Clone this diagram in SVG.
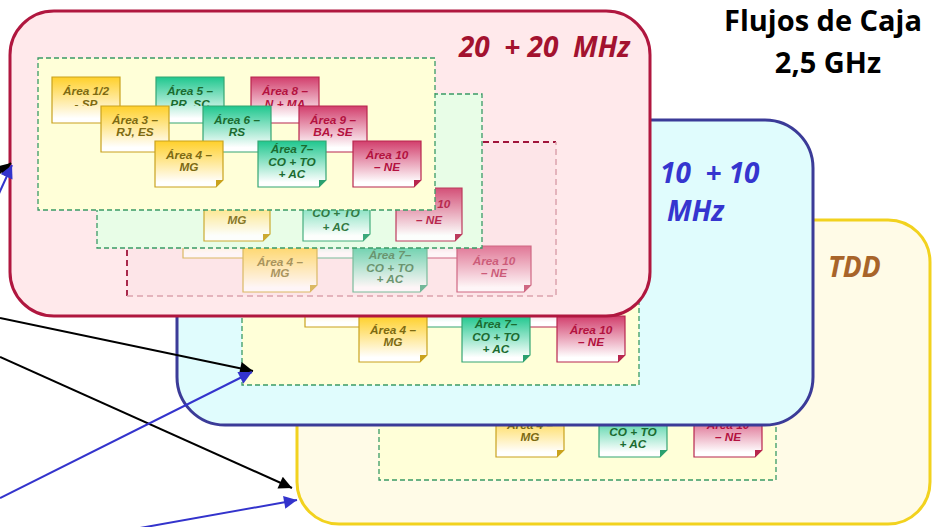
<svg xmlns="http://www.w3.org/2000/svg" width="932" height="527" viewBox="0 0 932 527">
<defs>
<linearGradient id="gy" x1="0" y1="0" x2="0" y2="1"><stop offset="0" stop-color="#ffd02a"/><stop offset="0.9" stop-color="#ffffff"/></linearGradient>
<linearGradient id="gg" x1="0" y1="0" x2="0" y2="1"><stop offset="0" stop-color="#1fc78e"/><stop offset="0.9" stop-color="#ffffff"/></linearGradient>
<linearGradient id="gr" x1="0" y1="0" x2="0" y2="1"><stop offset="0" stop-color="#d23e6c"/><stop offset="0.9" stop-color="#ffffff"/></linearGradient>
<clipPath id="r1" clipPathUnits="userSpaceOnUse"><rect x="-5" y="-5" width="80" height="34"/></clipPath>
<marker id="ak" viewBox="0 0 10 10" refX="10" refY="5" markerUnits="userSpaceOnUse" markerWidth="17" markerHeight="13" orient="auto"><path d="M0,0L10,5L0,10Z" fill="#000"/></marker>
<marker id="ab" viewBox="0 0 10 10" refX="10" refY="5" markerUnits="userSpaceOnUse" markerWidth="17" markerHeight="13" orient="auto"><path d="M0,0L10,5L0,10Z" fill="#3333cc"/></marker>
</defs>
<style>
.cy{fill:url(#gy);stroke:#c9a21e;stroke-width:1.2}
.cg{fill:url(#gg);stroke:#35a673;stroke-width:1.2}
.cr{fill:url(#gr);stroke:#b8264e;stroke-width:1.2}
.fy{fill:#c9a21e}.fg{fill:#2aa070}.fr{fill:#b8264e}
.t{font-family:"Liberation Sans",Arial,sans-serif;font-weight:bold;font-style:italic;font-size:11.8px;text-anchor:middle}
.ty{fill:#7d6a12}.tg{fill:#1b6b30}.tr{fill:#b3123f}
.frame{fill:#ffffd8;stroke:#3a9a66;stroke-width:1.3;stroke-dasharray:5 3}
.mid{fill:#e8fde7;stroke:#3a9a66;stroke-width:1.3;stroke-dasharray:5 3}
.big{font-family:"Open Sans","Liberation Sans",sans-serif;font-weight:bold;font-style:italic;font-size:28px}
.title{font-family:"Open Sans","Liberation Sans",sans-serif;font-weight:bold;font-size:29px;fill:#000;text-anchor:middle}
.ln{fill:none;stroke-width:2}
</style>

<!-- TDD panel -->
<g id="panel-tdd">
<rect x="297" y="220" width="633" height="304" rx="42" fill="#fffbe7" stroke="#f2d21e" stroke-width="3"/>
<text class="big" x="828" y="277" fill="#a8642a">TDD</text>
<rect class="frame" x="379" y="328" width="397" height="152"/>
<g id="y-a4" transform="translate(496,411)"><path class="cy" d="M0,0H68V39L61,46H0Z"/><path class="fy" d="M61,46L68,39H61Z"/><text class="t ty" x="34" y="18">Área 4 –</text><text class="t ty" x="34" y="30">MG</text></g>
<g id="y-a7" transform="translate(599,411)"><path class="cg" d="M0,0H68V39L61,46H0Z"/><path class="fg" d="M61,46L68,39H61Z"/><text class="t tg" x="34" y="12">Área 7–</text><text class="t tg" x="34" y="25">CO + TO</text><text class="t tg" x="34" y="37">+ AC</text></g>
<g id="y-a10" transform="translate(694,411)"><path class="cr" d="M0,0H68V39L61,46H0Z"/><path class="fr" d="M61,46L68,39H61Z"/><text class="t tr" x="34" y="18">Área 10</text><text class="t tr" x="34" y="30">– NE</text></g>
</g>

<!-- 10+10 panel -->
<g id="panel-10">
<rect x="177" y="120" width="636" height="305" rx="48" fill="#e0fcfd" stroke="#3b3b98" stroke-width="3"/>
<text class="big" x="660" y="183" fill="#3535cf" xml:space="preserve">10  + 10</text>
<text class="big" x="667" y="221" fill="#3535cf">MHz</text>
<rect class="frame" x="242" y="233" width="397" height="152"/>
<g transform="translate(305,281)"><path class="cy" d="M0,0H68V39L61,46H0Z"/></g>
<g transform="translate(407,281)"><path class="cg" d="M0,0H68V39L61,46H0Z"/></g>
<g transform="translate(503,281)"><path class="cr" d="M0,0H68V39L61,46H0Z"/></g>
<g id="c-a4" transform="translate(359,316)"><path class="cy" d="M0,0H68V39L61,46H0Z"/><path class="fy" d="M61,46L68,39H61Z"/><text class="t ty" x="34" y="18">Área 4 –</text><text class="t ty" x="34" y="30">MG</text></g>
<g id="c-a7" transform="translate(462,316)"><path class="cg" d="M0,0H68V39L61,46H0Z"/><path class="fg" d="M61,46L68,39H61Z"/><text class="t tg" x="34" y="12">Área 7–</text><text class="t tg" x="34" y="25">CO + TO</text><text class="t tg" x="34" y="37">+ AC</text></g>
<g id="c-a10" transform="translate(557,316)"><path class="cr" d="M0,0H68V39L61,46H0Z"/><path class="fr" d="M61,46L68,39H61Z"/><text class="t tr" x="34" y="18">Área 10</text><text class="t tr" x="34" y="30">– NE</text></g>
</g>

<!-- 20+20 panel -->
<g id="panel-20">
<rect x="10" y="11" width="640" height="305" rx="44" fill="#ffe9eb" stroke="#b0173f" stroke-width="3"/>
<text class="big" x="630" y="57" fill="#a3122f" text-anchor="end" xml:space="preserve">20  + 20  MHz</text>

<!-- back layer -->
<g id="back-layer">
<rect x="127" y="142" width="429" height="154" fill="#fde5e8"/>
<path d="M127,296V142H556" fill="none" stroke="#a0143a" stroke-width="1.8" stroke-dasharray="6 4"/>
<path d="M127,296H556V142" fill="none" stroke="#dba3ad" stroke-width="1.5" stroke-dasharray="6 4"/>
<g opacity="0.65">
<g transform="translate(183,212)"><path class="cy" d="M0,0H73V39L66,46H0Z"/></g>
<g transform="translate(290,212)"><path class="cg" d="M0,0H73V39L66,46H0Z"/></g>
<g transform="translate(393,212)"><path class="cr" d="M0,0H73V39L66,46H0Z"/></g>
<g id="b-a4" transform="translate(243,246)"><path class="cy" d="M0,0H74V39L67,46H0Z"/><path class="fy" d="M67,46L74,39H67Z"/><text class="t ty" x="37" y="20">Área 4 –</text><text class="t ty" x="37" y="31">MG</text></g>
<g id="b-a7" transform="translate(353,246)"><path class="cg" d="M0,0H74V39L67,46H0Z"/><path class="fg" d="M67,46L74,39H67Z"/><text class="t tg" x="37" y="13">Área 7–</text><text class="t tg" x="37" y="26">CO + TO</text><text class="t tg" x="37" y="37">+ AC</text></g>
<g id="b-a10" transform="translate(457,246)"><path class="cr" d="M0,0H74V39L67,46H0Z"/><path class="fr" d="M67,46L74,39H67Z"/><text class="t tr" x="37" y="19">Área 10</text><text class="t tr" x="37" y="31">– NE</text></g>
</g>
</g>

<!-- middle layer -->
<g id="middle-layer">
<rect class="mid" x="97" y="94" width="385" height="154"/>
<g opacity="0.9">
<g id="m-a4" transform="translate(204,188)"><path class="cy" d="M0,0H66V46L59,53H0Z"/><path class="fy" d="M59,53L66,46H59Z"/><text class="t ty" x="33" y="36">MG</text></g>
<g id="m-a7" transform="translate(303,188)"><path class="cg" d="M0,0H67V46L60,53H0Z"/><path class="fg" d="M60,53L67,46H60Z"/><text class="t tg" x="33" y="29">CO + TO</text><text class="t tg" x="33" y="43">+ AC</text></g>
<g id="m-a10" transform="translate(396,188)"><path class="cr" d="M0,0H66V46L59,53H0Z"/><path class="fr" d="M59,53L66,46H59Z"/><text class="t tr" x="33" y="20">Área 10</text><text class="t tr" x="33" y="36">– NE</text></g>
</g>
</g>

<!-- front layer -->
<g id="front-layer">
<rect class="frame" x="38" y="58" width="397" height="152"/>
<g id="p-a12" transform="translate(52,77)"><path class="cy" d="M0,0H68V39L61,46H0Z"/><path class="fy" d="M61,46L68,39H61Z"/><text class="t ty" x="34" y="18">Área 1/2</text><text class="t ty" x="34" y="31" clip-path="url(#r1)">- SP</text></g>
<g id="p-a5" transform="translate(156,77)"><path class="cg" d="M0,0H68V39L61,46H0Z"/><path class="fg" d="M61,46L68,39H61Z"/><text class="t tg" x="34" y="18">Área 5 –</text><text class="t tg" x="34" y="31" clip-path="url(#r1)">PR, SC</text></g>
<g id="p-a8" transform="translate(251,77)"><path class="cr" d="M0,0H68V39L61,46H0Z"/><path class="fr" d="M61,46L68,39H61Z"/><text class="t tr" x="34" y="18">Área 8 –</text><text class="t tr" x="34" y="31" clip-path="url(#r1)">N + MA</text></g>
<g id="p-a3" transform="translate(101,106)"><path class="cy" d="M0,0H68V39L61,46H0Z"/><path class="fy" d="M61,46L68,39H61Z"/><text class="t ty" x="34" y="18">Área 3 –</text><text class="t ty" x="34" y="30">RJ, ES</text></g>
<g id="p-a6" transform="translate(203,106)"><path class="cg" d="M0,0H68V39L61,46H0Z"/><path class="fg" d="M61,46L68,39H61Z"/><text class="t tg" x="34" y="18">Área 6 –</text><text class="t tg" x="34" y="30">RS</text></g>
<g id="p-a9" transform="translate(299,106)"><path class="cr" d="M0,0H68V39L61,46H0Z"/><path class="fr" d="M61,46L68,39H61Z"/><text class="t tr" x="34" y="18">Área 9 –</text><text class="t tr" x="34" y="30">BA, SE</text></g>
<g id="p-a4" transform="translate(155,141)"><path class="cy" d="M0,0H68V39L61,46H0Z"/><path class="fy" d="M61,46L68,39H61Z"/><text class="t ty" x="34" y="18">Área 4 –</text><text class="t ty" x="34" y="30">MG</text></g>
<g id="p-a7" transform="translate(258,141)"><path class="cg" d="M0,0H68V39L61,46H0Z"/><path class="fg" d="M61,46L68,39H61Z"/><text class="t tg" x="34" y="12">Área 7–</text><text class="t tg" x="34" y="25">CO + TO</text><text class="t tg" x="34" y="37">+ AC</text></g>
<g id="p-a10" transform="translate(353,141)"><path class="cr" d="M0,0H68V39L61,46H0Z"/><path class="fr" d="M61,46L68,39H61Z"/><text class="t tr" x="34" y="18">Área 10</text><text class="t tr" x="34" y="30">– NE</text></g>
</g>
</g>

<!-- title -->
<g id="title">
<text class="title" x="823" y="31">Flujos de Caja</text>
<text class="title" x="828" y="73">2,5 GHz</text>
</g>

<!-- connectors -->
<g id="connectors">
<line class="ln" x1="-20" y1="190" x2="11" y2="163" stroke="#000" marker-end="url(#ak)"/>
<line class="ln" x1="-4" y1="200" x2="12" y2="165" stroke="#3333cc" marker-end="url(#ab)"/>
<line class="ln" x1="0" y1="318" x2="253" y2="371" stroke="#000" marker-end="url(#ak)"/>
<line class="ln" x1="0" y1="357" x2="292" y2="488" stroke="#000" marker-end="url(#ak)"/>
<line class="ln" x1="0" y1="498" x2="252" y2="372" stroke="#3333cc" marker-end="url(#ab)"/>
<line class="ln" x1="140" y1="528" x2="297" y2="500" stroke="#3333cc" marker-end="url(#ab)"/>
</g>
</svg>
